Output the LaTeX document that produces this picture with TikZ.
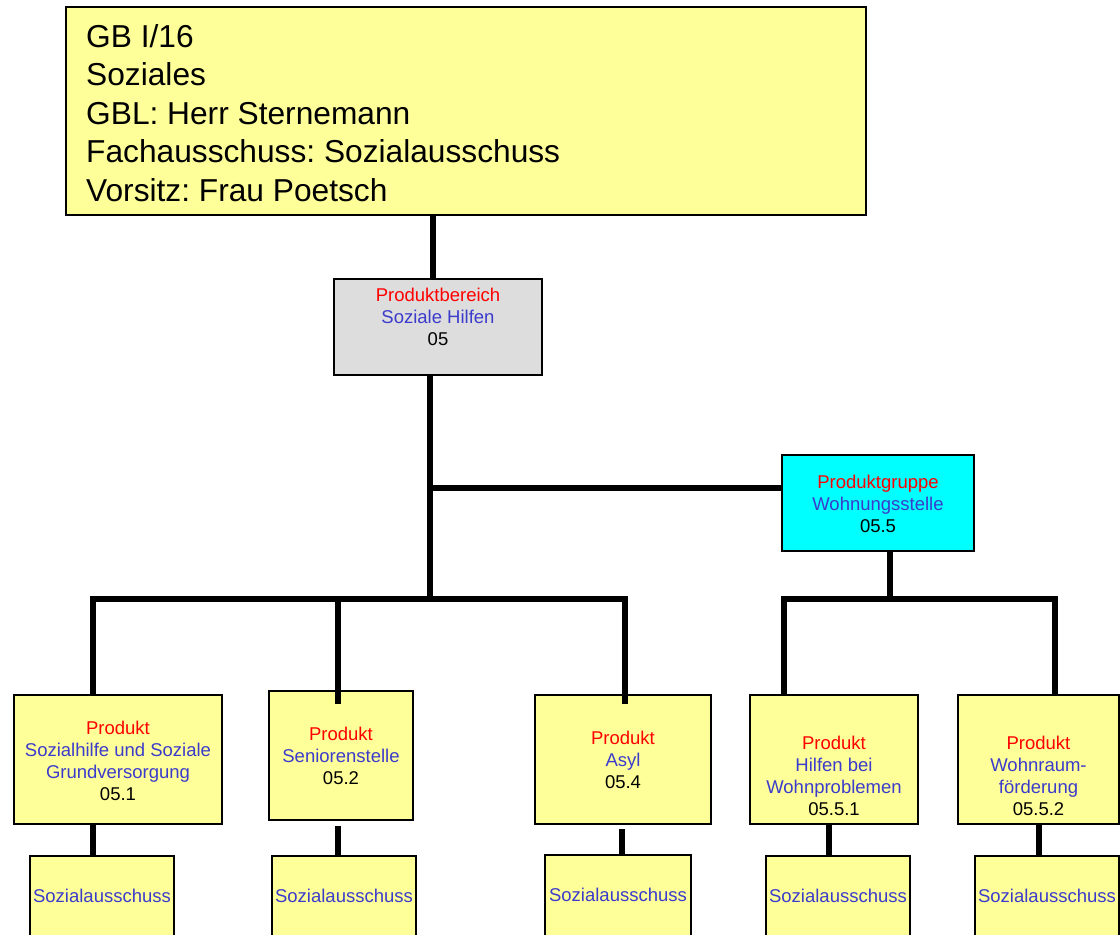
\documentclass[tikz,border=0pt]{standalone}
\usepackage{fontspec}
\setmainfont{Liberation Sans}
\frenchspacing
\definecolor{boxyellow}{HTML}{FFFF99}
\definecolor{boxcyan}{HTML}{00FFFF}
\definecolor{boxgray}{HTML}{DDDDDD}
\definecolor{txtred}{HTML}{FF0000}
\definecolor{txtblue}{HTML}{3B3BCC}
\begin{document}
\begin{tikzpicture}[x=1pt,y=-1pt,
  box/.style={draw=black,line width=1.6pt,inner sep=0pt,outer sep=0pt},
  ybox/.style={box,fill=boxyellow},
  conn/.style={line width=6pt,black},
  txt/.style={align=center,inner sep=0pt,font=\fontsize{18.5}{22}\selectfont},
  big/.style={align=left,inner sep=0pt,anchor=north west,font=\fontsize{31.7}{38.5}\selectfont}]
\useasboundingbox (0,0) rectangle (1120,935);
% top box
\node[ybox,minimum width=800pt,minimum height=208pt] (gb) at (466,111) {};
\node[big] (gbt) at (86,24) {GB I/16\\Soziales\\GBL: Herr Sternemann\\Fachausschuss: Sozialausschuss\\Vorsitz: Frau Poetsch};
% Produktbereich
\node[box,fill=boxgray,minimum width=208pt,minimum height=96pt] (pb) at (438,327) {};
\node[txt] (pbt) at (438,317) {\textcolor{txtred}{Produktbereich}\\\textcolor{txtblue}{Soziale Hilfen}\\05};
% Produktgruppe
\node[box,fill=boxcyan,minimum width=192pt,minimum height=96pt] (wg) at (878,503) {};
\node[txt] (wgt) at (878,504) {\textcolor{txtred}{Produktgruppe}\\\textcolor{txtblue}{Wohnungsstelle}\\05.5};
% products
\node[ybox,minimum width=208pt,minimum height=129pt] (p1) at (118,759.5) {};
\node[txt] (p1t) at (118,761) {\textcolor{txtred}{Produkt}\\\textcolor{txtblue}{Sozialhilfe und Soziale}\\\textcolor{txtblue}{Grundversorgung}\\05.1};
\node[ybox,minimum width=144pt,minimum height=129pt] (p2) at (341,755.5) {};
\node[txt] (p2t) at (341,756) {\textcolor{txtred}{Produkt}\\\textcolor{txtblue}{Seniorenstelle}\\05.2};
\node[ybox,minimum width=176pt,minimum height=129pt] (p3) at (623,759.5) {};
\node[txt] (p3t) at (623,760) {\textcolor{txtred}{Produkt}\\\textcolor{txtblue}{Asyl}\\05.4};
\node[ybox,minimum width=168pt,minimum height=129pt] (p4) at (834,759.5) {};
\node[txt] (p4t) at (834,776) {\textcolor{txtred}{Produkt}\\\textcolor{txtblue}{Hilfen bei}\\\textcolor{txtblue}{Wohnproblemen}\\05.5.1};
\node[ybox,minimum width=161pt,minimum height=129pt] (p5) at (1038.5,759.5) {};
\node[txt] (p5t) at (1038.5,776) {\textcolor{txtred}{Produkt}\\\textcolor{txtblue}{Wohnraum-}\\\textcolor{txtblue}{förderung}\\05.5.2};
% committees
\node[ybox,minimum width=144pt,minimum height=100pt,anchor=north] (s1) at (102,856) {};
\node[txt,text=txtblue] (s1t) at (102,896) {Sozialausschuss};
\node[ybox,minimum width=144pt,minimum height=100pt,anchor=north] (s2) at (344,856) {};
\node[txt,text=txtblue] (s2t) at (344,896) {Sozialausschuss};
\node[ybox,minimum width=146pt,minimum height=100pt,anchor=north] (s3) at (618,855) {};
\node[txt,text=txtblue] (s3t) at (618,895) {Sozialausschuss};
\node[ybox,minimum width=144pt,minimum height=100pt,anchor=north] (s4) at (838,856) {};
\node[txt,text=txtblue] (s4t) at (838,896) {Sozialausschuss};
\node[ybox,minimum width=144pt,minimum height=100pt,anchor=north] (s5) at (1047,856) {};
\node[txt,text=txtblue] (s5t) at (1047,896) {Sozialausschuss};
% coordinates
\coordinate (bus1) at (430,599);
\coordinate (bus2) at (890,599);
\coordinate (j1) at (430,488);
% connectors
\draw[conn] (gb.south -| 433,0) -- (pb.north -| 433,0);
\draw[conn] (pb.south -| bus1) -- (bus1);
\draw[conn] (j1) -- (j1 -| wg.west);
\draw[conn] (wg.south -| bus2) -- (bus2);
\draw[conn] (p1.north -| 93,0) -- (93,599) -- (625,599) -- (p3.north -| 625,0) -- ++(0,9);
\draw[conn] (338,599) -- (p2.north -| 338,0) -- ++(0,13);
\draw[conn] (p4.north -| 784,0) -- (784,599) -- (1055,599) -- (p5.north -| 1055,0);
\draw[conn] (p1.south -| 93,0) -- (s1.north -| 93,0);
\draw[conn] (338,826) -- (s2.north -| 338,0);
\draw[conn] (622,829) -- (s3.north -| 622,0);
\draw[conn] (p4.south -| 829,0) -- (s4.north -| 829,0);
\draw[conn] (p5.south -| 1039,0) -- (s5.north -| 1039,0);
\end{tikzpicture}
\end{document}
